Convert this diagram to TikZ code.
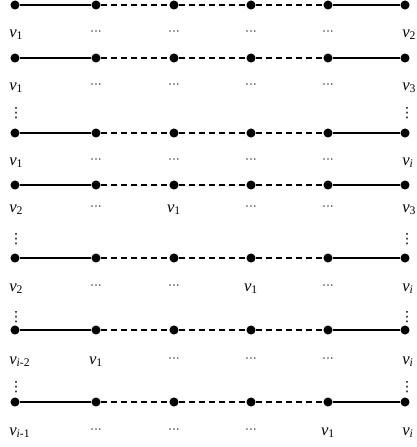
\documentclass[tikz,border=0pt]{standalone}
\usepackage{fontspec}
\setmainfont{Liberation Serif}
\newfontfamily\dvfont{DejaVu Sans}
\newcommand{\vlab}[1]{\textit{v}\textsubscript{#1}}
\newcommand{\hd}{\raisebox{1pt}{\fontsize{9}{10}\selectfont ···}}
\begin{document}
\begin{tikzpicture}[x=0.75pt,y=-0.75pt,
  vert/.style={circle,fill=black,inner sep=0pt,minimum size=6.8pt},
  solidedge/.style={line width=1pt},
  dashedge/.style={line width=1pt,dash pattern=on 4.5pt off 3pt},
  lbl/.style={font=\fontsize{12.5}{14}\selectfont,inner sep=0pt,anchor=base},
  lbll/.style={lbl,anchor=base west},
  vd/.style={inner sep=0pt,font=\dvfont\fontsize{10.5}{11}\selectfont}]
\useasboundingbox (0,0) rectangle (417,447);
% rows
\foreach \r/\y in {1/5,2/58,3/133,4/185,5/258,6/330,7/402}{
  \foreach \k/\x in {1/15,2/96,3/174,4/251,5/328,6/405}{
    \node[vert] (n\r\k) at (\x,\y) {};
  }
  \draw[solidedge] (n\r1) -- (n\r2);
  \draw[dashedge] (n\r2) -- (n\r3);
  \draw[dashedge] (n\r3) -- (n\r4);
  \draw[dashedge] (n\r4) -- (n\r5);
  \draw[solidedge] (n\r5) -- (n\r6);
}
% labels: row/y/l1/l2/l3/l4/l5/l6
\foreach \r/\y/\a/\b/\c/\d/\e/\f in {
  1/37/\vlab{1}/\hd/\hd/\hd/\hd/\vlab{2},
  2/90/\vlab{1}/\hd/\hd/\hd/\hd/\vlab{3},
  3/165/\vlab{1}/\hd/\hd/\hd/\hd/\vlab{\textit{i}},
  4/212/\vlab{2}/\hd/\vlab{1}/\hd/\hd/\vlab{3},
  5/291/\vlab{2}/\hd/\hd/\vlab{1}/\hd/\vlab{\textit{i}},
  6/364/\vlab{\textit{i}-2}/\vlab{1}/\hd/\hd/\hd/\vlab{\textit{i}},
  7/435/\vlab{\textit{i}-1}/\hd/\hd/\hd/\vlab{1}/\vlab{\textit{i}}}{
  \node[lbll] (l\r1) at (9,\y) {\a};
  \node[lbl] (l\r2) at (96,\y) {\b};
  \node[lbl] (l\r3) at (174,\y) {\c};
  \node[lbl] (l\r4) at (251,\y) {\d};
  \node[lbl] (l\r5) at (328,\y) {\e};
  \node[lbll] (l\r6) at (402,\y) {\f};
}
% vertical dots
\foreach \j/\y in {1/113,2/239,3/317,4/387}{
  \node[vd] (dl\j) at (16,\y) {⋮};
  \node[vd] (dr\j) at (407,\y) {⋮};
}
\end{tikzpicture}
\end{document}
